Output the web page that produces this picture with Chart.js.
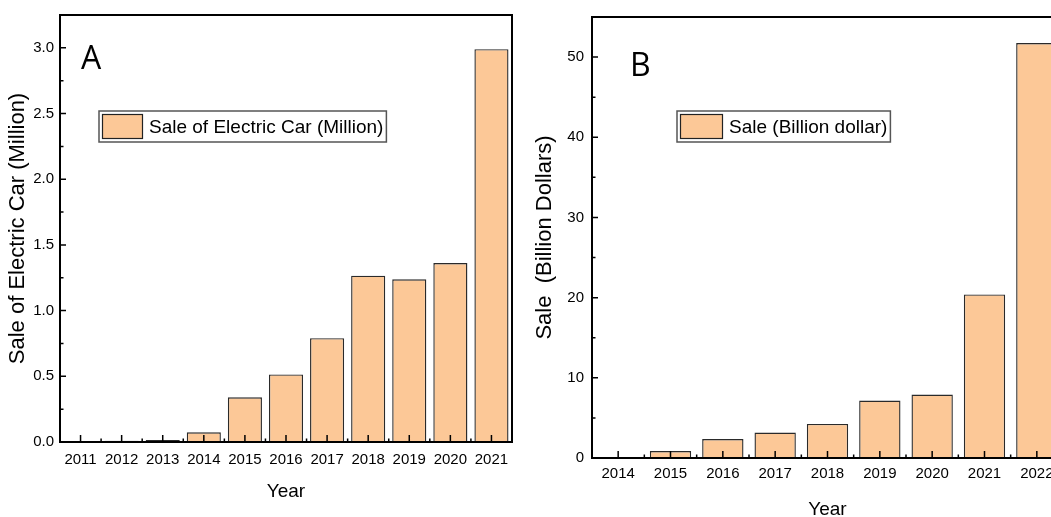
<!DOCTYPE html>
<html><head><meta charset="utf-8">
<script src="https://cdn.jsdelivr.net/npm/chart.js@4.4.1/dist/chart.umd.min.js"></script>
<style>
html,body{margin:0;padding:0;background:#fff;overflow:hidden;width:1051px;height:517px;}
#wrap{position:relative;width:1051px;height:517px;overflow:hidden;background:#fff;}
#cA{position:absolute;left:0;top:0;}
#cB{position:absolute;left:530px;top:0;}
</style></head><body>
<div id="wrap"><canvas id="cA" width="530" height="517"></canvas><canvas id="cB" width="560" height="540"></canvas></div>
<script>
// ---- data ----
const yearsA = ['2011','2012','2013','2014','2015','2016','2017','2018','2019','2020','2021'];
const salesA = [0.004, 0.009, 0.016, 0.074, 0.34, 0.514, 0.79, 1.266, 1.238, 1.362, 2.99];
const yTicksA = [0, 0.5, 1.0, 1.5, 2.0, 2.5, 3.0];
const labelA = 'Sale of Electric Car (Million)';

const yearsB = ['2014','2015','2016','2017','2018','2019','2020','2021','2022'];
const salesB = [0.1, 0.87, 2.37, 3.17, 4.25, 7.17, 7.92, 20.4, 51.75];
const yTicksB = [0, 10, 20, 30, 40, 50];
const labelB = 'Sale (Billion dollar)';

const FILL = '#FCC897';
const FONT = '"Liberation Sans", Arial, sans-serif';

const decor = {
  id: 'decor',
  afterDatasetsDraw(chart, args, o) {
    const {ctx, chartArea: a, scales: {x, y}} = chart;
    ctx.save();
    ctx.strokeStyle = '#000';
    ctx.lineWidth = 1.5;
    ctx.beginPath();
    const yt = o.yTicks;
    yt.forEach(v => {
      const py = y.getPixelForValue(v);
      ctx.moveTo(a.left, py); ctx.lineTo(a.left + 6, py);
    });
    const step = yt[1] - yt[0];
    yt.forEach(v => {
      const m = v + step / 2;
      if (m < y.max - 1e-9) {
        const py = y.getPixelForValue(m);
        ctx.moveTo(a.left, py); ctx.lineTo(a.left + 3.5, py);
      }
    });
    const n = chart.data.labels.length;
    for (let i = 0; i < n; i++) {
      const px = x.getPixelForValue(i);
      ctx.moveTo(px, a.bottom); ctx.lineTo(px, a.bottom - 7);
      if (i < n - 1) {
        const pb = (px + x.getPixelForValue(i + 1)) / 2;
        ctx.moveTo(pb, a.bottom); ctx.lineTo(pb, a.bottom - 3.5);
      }
    }
    ctx.stroke();
    // frame
    ctx.lineWidth = 2;
    ctx.strokeRect(a.left, a.top, a.right - a.left, a.bottom - a.top);
    // legend
    const ds = chart.data.datasets[0];
    ctx.font = o.legendFont;
    const tw = ctx.measureText(ds.label).width;
    const lx = a.left + o.legendDx, ly = a.top + o.legendDy;
    const sw = o.swW, sh = o.swH;
    const bw = 3 + sw + 6 + tw + 3, bh = sh + 6;
    ctx.fillStyle = '#fff';
    ctx.fillRect(lx, ly, bw, bh);
    ctx.strokeStyle = '#555';
    ctx.lineWidth = 1.5;
    ctx.strokeRect(lx, ly, bw, bh);
    ctx.fillStyle = ds.backgroundColor;
    ctx.fillRect(lx + 3, ly + 3, sw, sh);
    ctx.strokeStyle = '#222';
    ctx.lineWidth = 1.2;
    ctx.strokeRect(lx + 3.5, ly + 3.5, sw - 1, sh - 1);
    ctx.fillStyle = '#000';
    ctx.textBaseline = 'middle';
    ctx.textAlign = 'left';
    ctx.fillText(ds.label, lx + 3 + sw + 6, ly + bh / 2 + 1);
    // panel letter
    ctx.font = o.letterFont;
    ctx.textBaseline = 'alphabetic';
    ctx.fillText(o.letter, a.left + o.letterDx, a.top + o.letterDy);
    ctx.restore();
  }
};

function makeChart(id, labels, values, label, yTicks, cfg) {
  return new Chart(document.getElementById(id), {
    type: 'bar',
    data: {
      labels: labels,
      datasets: [{
        label: label,
        data: values,
        backgroundColor: FILL,
        borderColor: '#2a2a2a',
        borderWidth: 1.4,
        borderSkipped: 'bottom',
        barPercentage: cfg.barPct,
        categoryPercentage: 1.0
      }]
    },
    options: {
      responsive: false,
      animation: false,
      devicePixelRatio: 1,
      layout: {padding: {top: cfg.padTop, right: cfg.padRight, left: 0, bottom: 0}},
      plugins: {
        legend: {display: false},
        tooltip: {enabled: false},
        decor: cfg.decor
      },
      scales: {
        x: {
          offset: true,
          grid: {display: false, drawTicks: false},
          border: {display: false},
          ticks: {color: '#000', font: {family: FONT, size: cfg.xTickSize}, padding: cfg.xTickPad, maxRotation: 0, autoSkip: false},
          title: {display: true, text: 'Year', color: '#000', font: {family: FONT, size: 19}, padding: {top: 0, bottom: cfg.xTitlePad}},
          afterFit(s) { s.height = cfg.xHeight; }
        },
        y: {
          min: 0, max: cfg.yMax,
          grid: {display: false, drawTicks: false},
          border: {display: false},
          afterBuildTicks(s) { s.ticks = yTicks.map(v => ({value: v})); },
          ticks: {color: '#000', font: {family: FONT, size: 15}, padding: cfg.yTickPad,
                  callback: v => cfg.yFmt(v)},
          title: {display: true, text: cfg.yTitle, color: '#000', font: {family: FONT, size: 22}, padding: {top: cfg.yTitlePad, bottom: 0}},
          afterFit(s) { s.width = cfg.yWidth; }
        }
      }
    },
    plugins: [decor]
  });
}

makeChart('cA', yearsA, salesA, labelA, yTicksA, {
  barPct: 0.83, padTop: 14, padRight: 18, xHeight: 75, yWidth: 60, yMax: 3.25,
  xTickSize: 15, xTickPad: 9, xTitlePad: 14, yTickPad: 6, yTitlePad: 5,
  yTitle: 'Sale of Electric Car (Million)', yFmt: v => Number(v).toFixed(1),
  decor: {yTicks: yTicksA, legendFont: '19px ' + FONT, legendDx: 39, legendDy: 96, swW: 41, swH: 25,
          letter: 'A', letterFont: '32px "Liberation Sans Narrow", "Open Sans", sans-serif', letterDx: 21, letterDy: 54}
});

makeChart('cB', yearsB, salesB, labelB, yTicksB, {
  barPct: 0.79, padTop: 17, padRight: 27, xHeight: 82, yWidth: 62, yMax: 55,
  xTickSize: 15, xTickPad: 7, xTitlePad: 19, yTickPad: 8, yTitlePad: 2,
  yTitle: 'Sale  (Billion Dollars)', yFmt: v => String(v),
  decor: {yTicks: yTicksB, legendFont: '19px ' + FONT, legendDx: 85, legendDy: 94, swW: 43, swH: 25,
          letter: 'B', letterFont: '32px "Liberation Sans Narrow", "Open Sans", sans-serif', letterDx: 38, letterDy: 59}
});
</script>
</body></html>
